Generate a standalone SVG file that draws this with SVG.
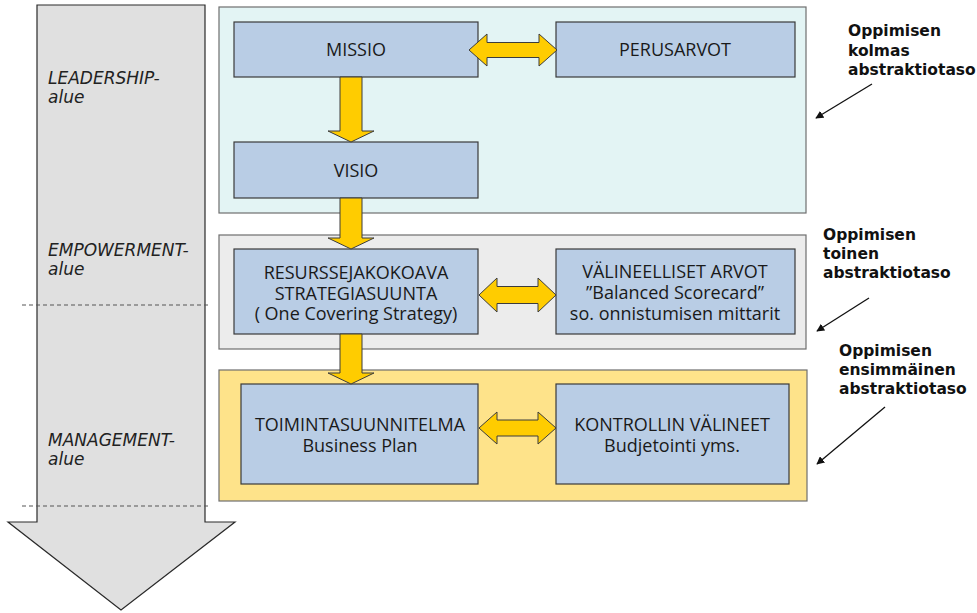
<svg xmlns="http://www.w3.org/2000/svg" width="977" height="613" viewBox="0 0 977 613">
  <defs>
    <style>
      .panel { stroke: #6e6e6e; stroke-width: 1.2; }
      .box { fill: #b9cde5; stroke: #3a3a3a; stroke-width: 1.2; }
      .btxt { font-family: "Open Sans", "Noto Sans", sans-serif; font-size: 18px; fill: #1a1a1a; text-anchor: middle; }
      .zone { font-family: "DejaVu Sans", Verdana, sans-serif; font-style: italic; font-size: 17px; fill: #222; }
      .level { font-family: "DejaVu Sans", Verdana, sans-serif; font-weight: bold; font-size: 15.5px; fill: #111; }
      .flow { fill: #ffcc00; stroke: #3c3c3c; stroke-width: 1; stroke-linejoin: miter; }
      .pointer { stroke: #111; stroke-width: 1.3; fill: none; marker-end: url(#tip); }
      .dash { stroke: #555; stroke-width: 1; stroke-dasharray: 4 3; }
    </style>
    <marker id="tip" viewBox="0 0 10 10" refX="9" refY="5" markerWidth="8" markerHeight="8" markerUnits="userSpaceOnUse" orient="auto">
      <path d="M0,0 L10,5 L0,10 z" fill="#111"/>
    </marker>
  </defs>

  <!-- big downward band on the left -->
  <g id="band">
    <polygon points="37,5 205,5 205,522 235,522 121,610 8,522 37,522" fill="#e0e0e0" stroke="#2a2a2a" stroke-width="1.2"/>
    <line class="dash" x1="22" y1="305" x2="208" y2="305"/>
    <line class="dash" x1="22" y1="506" x2="208" y2="506"/>
    <text class="zone" x="48" y="84">LEADERSHIP-</text>
    <text class="zone" x="48" y="103">alue</text>
    <text class="zone" x="48" y="256">EMPOWERMENT-</text>
    <text class="zone" x="48" y="275">alue</text>
    <text class="zone" x="48" y="446">MANAGEMENT-</text>
    <text class="zone" x="48" y="465">alue</text>
  </g>

  <!-- level panels -->
  <g id="panel-leadership">
    <rect class="panel" x="219" y="7" width="587" height="206" fill="#e3f4f4"/>
  </g>
  <g id="panel-empowerment">
    <rect class="panel" x="219" y="235" width="587" height="114" fill="#ececec"/>
  </g>
  <g id="panel-management">
    <rect class="panel" x="219" y="370" width="588" height="131" fill="#fee38a"/>
  </g>

  <!-- nodes -->
  <g id="missio">
    <rect class="box" x="234" y="22" width="244" height="55"/>
    <text class="btxt" x="356" y="56">MISSIO</text>
  </g>
  <g id="perusarvot">
    <rect class="box" x="556" y="22" width="239" height="55"/>
    <text class="btxt" x="675" y="56">PERUSARVOT</text>
  </g>
  <g id="visio">
    <rect class="box" x="234" y="142" width="244" height="56"/>
    <text class="btxt" x="356" y="177">VISIO</text>
  </g>
  <g id="strategiasuunta">
    <rect class="box" x="234" y="249" width="244" height="85"/>
    <text class="btxt" x="356" y="279">RESURSSEJAKOKOAVA</text>
    <text class="btxt" x="356" y="299.5">STRATEGIASUUNTA</text>
    <text class="btxt" x="356" y="320">( One Covering Strategy)</text>
  </g>
  <g id="valineelliset-arvot">
    <rect class="box" x="556" y="249" width="239" height="85"/>
    <text class="btxt" x="675" y="278">VÄLINEELLISET ARVOT</text>
    <text class="btxt" x="675" y="299">”Balanced Scorecard”</text>
    <text class="btxt" x="675" y="320">so. onnistumisen mittarit</text>
  </g>
  <g id="toimintasuunnitelma">
    <rect class="box" x="241" y="384" width="237" height="100"/>
    <text class="btxt" x="360" y="431">TOIMINTASUUNNITELMA</text>
    <text class="btxt" x="360" y="452">Business Plan</text>
  </g>
  <g id="kontrollin-valineet">
    <rect class="box" x="556" y="384" width="233" height="100"/>
    <text class="btxt" x="672" y="431">KONTROLLIN VÄLINEET</text>
    <text class="btxt" x="672" y="452">Budjetointi yms.</text>
  </g>

  <!-- level captions -->
  <g id="level-3">
    <text class="level" x="848" y="36">Oppimisen</text>
    <text class="level" x="848" y="55.5">kolmas</text>
    <text class="level" x="848" y="75">abstraktiotaso</text>
  </g>
  <g id="level-2">
    <text class="level" x="823" y="240">Oppimisen</text>
    <text class="level" x="823" y="259">toinen</text>
    <text class="level" x="823" y="278">abstraktiotaso</text>
  </g>
  <g id="level-1">
    <text class="level" x="839" y="356">Oppimisen</text>
    <text class="level" x="839" y="375">ensimmäinen</text>
    <text class="level" x="839" y="394">abstraktiotaso</text>
  </g>

  <!-- connectors -->
  <g id="connectors">
    <polygon class="flow" points="340,77 362,77 362,131 374,131 351,142 328,131 340,131"/>
    <polygon class="flow" points="340,198 362,198 362,238 374,238 351,249 328,238 340,238"/>
    <polygon class="flow" points="340,334 362,334 362,373 374,373 351,384 328,373 340,373"/>

    <polygon class="flow" points="469,50 487,34 487,42.5 539,42.5 539,34 557,50 539,66 539,57.5 487,57.5 487,66"/>
    <polygon class="flow" points="479,295 497,278 497,286.5 538,286.5 538,278 556,295 538,312 538,303.5 497,303.5 497,312"/>
    <polygon class="flow" points="479,428 497,412 497,420 538,420 538,412 556,428 538,444 538,436 497,436 497,444"/>

    <line class="pointer" x1="872" y1="84" x2="816" y2="118"/>
    <line class="pointer" x1="869" y1="298" x2="817" y2="331"/>
    <line class="pointer" x1="885" y1="407" x2="817" y2="464"/>
  </g>
</svg>
